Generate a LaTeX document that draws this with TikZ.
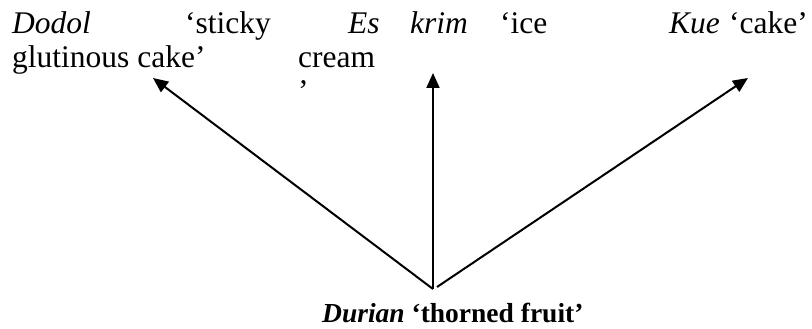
\documentclass[tikz,border=0pt]{standalone}
\usepackage{fontspec}
\setmainfont{Liberation Serif}
\usetikzlibrary{calc,arrows.meta}

\tikzset{
  word/.style={inner sep=0pt, anchor=base west, font=\fontsize{31.5}{34}\selectfont},
  rootword/.style={inner sep=0pt, anchor=base west, font=\fontsize{27.5}{32}\selectfont\bfseries},
  branch/.style={line width=2pt, -{Triangle[length=15pt,width=13pt]}}
}

\begin{document}
\begin{tikzpicture}[x=1pt,y=-1pt]
    \useasboundingbox (0,0) rectangle (812,329);
    \pgfmathsetmacro{\la}{34}	%first baseline
	\pgfmathsetmacro{\lb}{68}
	\pgfmathsetmacro{\lc}{102}

    % glosses at the top
    \node[word] (dodol) at (12,\la) {\textit{Dodol}};
    \node[word] (sticky) at (185,\la) {‘sticky};
    \node[word] (glutinous) at (12,\lb) {glutinous cake’};
    \node[word] (es) at (348,\la) {\textit{Es}};
    \node[word] (krim) at (410,\la) {\textit{krim}};
    \node[word] (ice) at (500,\la) {‘ice};
    \node[word] (cream) at (298,\lb) {cream};
    \node[word] (closeq) at (298,\lc) {’};
    \node[word] (kue) at (669,\la) {\textit{Kue}};
    \node[word] (cake) at (729,\la) {‘cake’};

    % the source word
    \node[rootword] (durian) at (322,322) {\textit{Durian} ‘thorned fruit’};

    \coordinate (R) at (433,289);
    \coordinate (R2) at ($(R) + (4,-2)$);
    \coordinate (T1) at (153,78);
    \coordinate (T2) at (433,73);
    \coordinate (T3) at (748,78);

	\draw[branch] (R) -- (T1);
	\draw[branch] (R) -- (T2);
	\draw[branch] (R2) -- (T3);
\end{tikzpicture}
\end{document}
